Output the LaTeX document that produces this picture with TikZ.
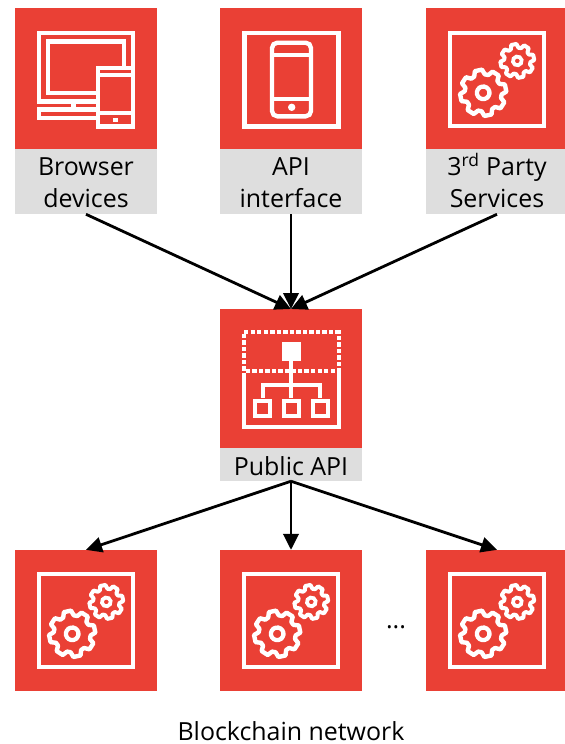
\documentclass[tikz,border=0pt]{standalone}
\usepackage{fontspec}
\setmainfont{Open Sans}
\usetikzlibrary{arrows.meta}
\definecolor{boxred}{HTML}{EA4035}
\definecolor{boxgrey}{HTML}{DEDEDE}
\tikzset{
  redbox/.style={fill=boxred,inner sep=0pt,minimum width=106.5pt,minimum height=106pt},
  greybox/.style={fill=boxgrey,inner sep=0pt,minimum width=106.5pt},
  lbl/.style={anchor=base,inner sep=0pt,font=\fontsize{18.7pt}{22pt}\selectfont,text=black},
  link/.style={draw=black,line width=2.1pt,-{Triangle[length=12pt,width=11.5pt]},shorten <=0pt,shorten >=0pt},
  icon/.style={draw=white,line width=3.3pt,fill=none,line join=miter},
  thin icon/.style={draw=white,line width=3pt,fill=none},
  pics/gearicon/.style={code={
    \draw[icon] (23.9,24.9) rectangle (118.1,118.1);
    \begin{scope}[shift={(57.2,84.8)},rotate=12]
      \draw[white,line width=3.3pt,line join=round] (-17:18.5)
        \foreach \a in {0,45,...,315}{ -- (\a-17:18.5) -- (\a-9:23.2) -- (\a+9:23.2) -- (\a+17:18.5)} -- cycle;
      \draw[draw=white,line width=3.2pt] (0,0) circle (6.3);
    \end{scope}
    \begin{scope}[shift={(91.3,52.9)},rotate=12]
      \draw[white,line width=3pt,line join=round] (-17:13.2)
        \foreach \a in {0,45,...,315}{ -- (\a-17:13.2) -- (\a-9:17) -- (\a+9:17) -- (\a+17:13.2)} -- cycle;
      \draw[draw=white,line width=2.8pt] (0,0) circle (4.4);
    \end{scope}
  }}
}
\begin{document}
\begin{tikzpicture}[x=.75pt,y=-.75pt]
\useasboundingbox (0,0) rectangle (565,744);
\clip (0,0) rectangle (565,744);
% top row
\node[redbox] (b1) at (86,78.5) {};
\node[redbox] (b2) at (291,78.5) {};
\node[redbox] (b3) at (497,78.5) {};
\node[greybox,minimum height=48.75pt] (g1) at (86,181.5) {};
\node[greybox,minimum height=48.75pt] (g2) at (291,181.5) {};
\node[greybox,minimum height=48.75pt] (g3) at (497,181.5) {};
\node[lbl] (t1a) at (86,175) {Browser};
\node[lbl] (t1b) at (86,207) {devices};
\node[lbl] (t2a) at (291,175) {API};
\node[lbl] (t2b) at (291,207) {interface};
\node[lbl] (t3a) at (497,175) {3\textsuperscript{rd} Party};
\node[lbl] (t3b) at (497,207) {Services};
% middle
\node[redbox,anchor=north] (m) at (291,309) {};
\node[greybox,minimum height=24.75pt,anchor=north] (mg) at (291,447.7) {};
\node[lbl] (mt) at (291,475) {Public API};
% bottom row
\node[redbox] (c1) at (86,620.8) {};
\node[redbox] (c2) at (291,620.8) {};
\node[redbox] (c3) at (497,620.8) {};
\node[lbl] (dots) at (396,628) {...};
\node[lbl] (net) at (291,740) {Blockchain network};
% connectors
\draw[link] (g1.south) -- (m.north);
\draw[link] (g2.south) -- (m.north);
\draw[link] (g3.south) -- (m.north);
\draw[link] (mg.south) -- (c1.north);
\draw[link] (mg.south) -- (c2.north);
\draw[link] (mg.south) -- (c3.north);
% desktop icon
\draw[icon] (96,101.5) -- (38.8,101.5) -- (38.8,32.7) -- (132.8,32.7) -- (132.8,66);
\draw[icon] (96,92.7) -- (48,92.7) -- (48,41.3) -- (123.7,41.3) -- (123.7,66);
\draw[icon] (73.3,103) -- (73.3,108);
\draw[icon] (96,109.3) -- (38.8,109.3) -- (38.8,118) -- (96,118);
\draw[icon] (98,68) rectangle (132.9,126.3);
\draw[thin icon] (98,75.3) -- (132.9,75.3);
\draw[thin icon] (98,113.3) -- (132.9,113.3);
\fill[white] (113,117.8) rectangle (117.6,122.2);
% phone icon
\draw[icon] (244.3,32.7) rectangle (338.3,126.3);
\draw[icon,rounded corners=4pt] (272,42.7) rectangle (311,116.3);
\draw[thin icon] (272,55) -- (311,55);
\draw[thin icon] (272,99.3) -- (311,99.3);
\fill[white] (291.7,107.3) circle (3.7);
% gears
\pic at (426,8) {gearicon};
\pic at (15,549) {gearicon};
\pic at (220,549) {gearicon};
\pic at (426,549) {gearicon};
% public API icon
\draw[white,line width=3.1pt,dash pattern=on 3.3pt off 1.6pt] (244,332.4) -- (338.7,332.4) -- (338.7,371.2) -- (244,371.2) -- cycle;
\draw[icon] (244,373) -- (244,427) -- (338.7,427) -- (338.7,373);
\fill[white] (282.3,342.3) rectangle (300.7,360.5);
\draw[thin icon] (291.4,360) -- (291.4,398);
\draw[thin icon] (262.5,398) -- (262.5,385) -- (320,385) -- (320,398);
\draw[thin icon] (255,400.5) rectangle (270,415.5);
\draw[thin icon] (284,400.5) rectangle (299,415.5);
\draw[thin icon] (312.8,400.5) rectangle (327.8,415.5);
\end{tikzpicture}
\end{document}
